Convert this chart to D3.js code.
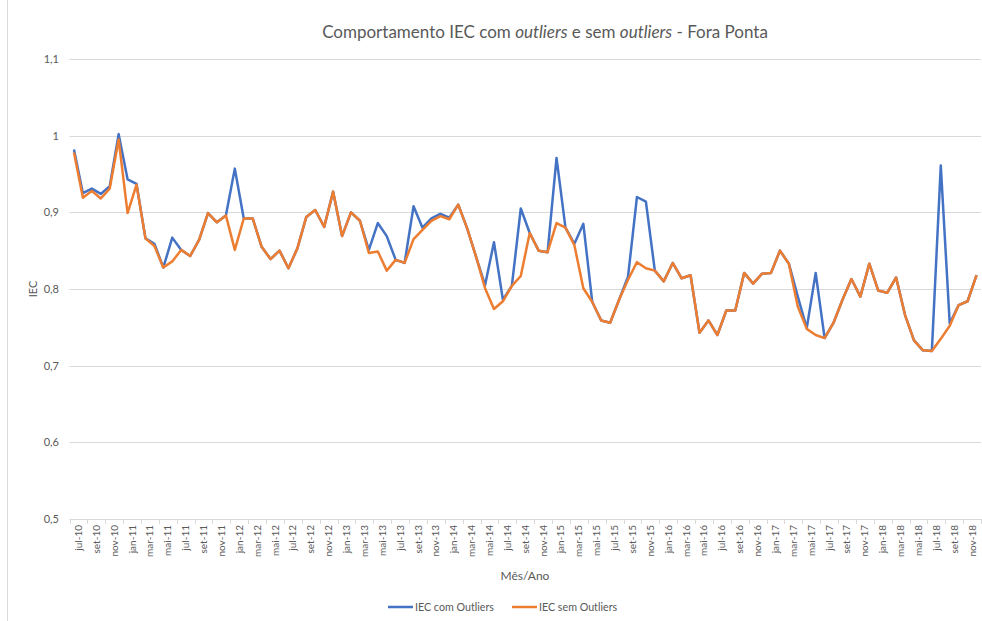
<!DOCTYPE html>
<html>
<head>
<meta charset="utf-8">
<script src="https://cdn.jsdelivr.net/npm/d3@7"></script>
<style>
  body { margin: 0; background: #fff; }
  svg { font-family: Lato, "Open Sans", sans-serif; }
</style>
</head>
<body>
<svg id="chart" width="982" height="621"></svg>
<script>
// month names (pt-BR) used for the category labels
var monthNames = ["jan", "fev", "mar", "abr", "mai", "jun", "jul", "ago", "set", "out", "nov", "dez"];
var startYear = 2010, startMonth = 6; // jul-10

// IEC with outliers
var comOutliers = [
  0.982, 0.925, 0.931, 0.924, 0.934, 1.002, 0.943, 0.937, 0.866, 0.859,
  0.828, 0.867, 0.851, 0.843, 0.864, 0.899, 0.887, 0.896, 0.957, 0.892,
  0.892, 0.855, 0.839, 0.850, 0.827, 0.853, 0.894, 0.903, 0.881, 0.927,
  0.869, 0.900, 0.889, 0.851, 0.886, 0.869, 0.838, 0.834, 0.908, 0.880,
  0.892, 0.898, 0.893, 0.910, 0.879, 0.842, 0.805, 0.861, 0.786, 0.804,
  0.905, 0.873, 0.850, 0.848, 0.971, 0.880, 0.859, 0.885, 0.783, 0.759,
  0.756, 0.786, 0.816, 0.920, 0.914, 0.824, 0.810, 0.834, 0.814, 0.818,
  0.743, 0.759, 0.740, 0.772, 0.772, 0.821, 0.807, 0.820, 0.821, 0.850,
  0.833, 0.790, 0.749, 0.821, 0.736, 0.756, 0.786, 0.813, 0.790, 0.833,
  0.798, 0.795, 0.815, 0.766, 0.733, 0.720, 0.719, 0.961, 0.755, 0.779,
  0.784, 0.818
];

// IEC without outliers
var semOutliers = [
  0.978, 0.919, 0.928, 0.918, 0.931, 0.995, 0.899, 0.936, 0.866, 0.856,
  0.828, 0.836, 0.851, 0.843, 0.864, 0.899, 0.887, 0.896, 0.851, 0.892,
  0.892, 0.855, 0.839, 0.850, 0.827, 0.853, 0.894, 0.903, 0.881, 0.927,
  0.869, 0.900, 0.889, 0.847, 0.849, 0.824, 0.838, 0.834, 0.865, 0.877,
  0.889, 0.895, 0.891, 0.910, 0.879, 0.842, 0.801, 0.774, 0.784, 0.804,
  0.817, 0.873, 0.850, 0.848, 0.886, 0.880, 0.857, 0.801, 0.783, 0.759,
  0.756, 0.786, 0.812, 0.835, 0.827, 0.824, 0.810, 0.834, 0.814, 0.818,
  0.743, 0.759, 0.740, 0.772, 0.772, 0.821, 0.807, 0.820, 0.821, 0.850,
  0.833, 0.777, 0.748, 0.740, 0.736, 0.756, 0.786, 0.813, 0.790, 0.833,
  0.798, 0.795, 0.815, 0.766, 0.733, 0.720, 0.719, 0.735, 0.752, 0.779,
  0.784, 0.818
];

var yTicks = [0.5, 0.6, 0.7, 0.8, 0.9, 1.0, 1.1];

var categories = comOutliers.map(function(d, i) {
  var m = startMonth + i;
  var yr = startYear + Math.floor(m / 12);
  return monthNames[m % 12] + "-" + String(yr).slice(2);
});

var svg = d3.select("#chart");
var plotLeft = 69.5, plotRight = 981, plotTop = 59, plotBottom = 519;

var x = d3.scalePoint().domain(categories).range([plotLeft, plotRight]).padding(0.5);
var y = d3.scaleLinear().domain([0.5, 1.1]).range([plotBottom, plotTop]);
var step = x.step();

var textColor = "#595959", gridColor = "#d9d9d9";

// outer border
svg.append("line")
  .attr("x1", 7.5).attr("x2", 7.5).attr("y1", 0).attr("y2", 621)
  .attr("stroke", gridColor);

// gridlines
svg.append("g").selectAll("line")
  .data(yTicks)
  .enter().append("line")
  .attr("x1", plotLeft).attr("x2", plotRight)
  .attr("y1", function(d) { return Math.round(y(d)) + 0.5; })
  .attr("y2", function(d) { return Math.round(y(d)) + 0.5; })
  .attr("stroke", gridColor).attr("stroke-width", 1);

// y labels
svg.append("g").selectAll("text")
  .data(yTicks)
  .enter().append("text")
  .attr("x", 59).attr("y", function(d) { return y(d); })
  .attr("dy", "0.35em")
  .attr("text-anchor", "end")
  .attr("fill", textColor)
  .style("font-size", "11px")
  .text(function(d) { return d3.format(".1f")(d).replace(".0", "").replace(".", ","); });

// x tick marks every 2 categories (category boundaries)
var tickIdx = categories.map(function(d, i) { return i; }).filter(function(i) { return i % 2 == 0; });
tickIdx.push(categories.length);
svg.append("g").selectAll("line")
  .data(tickIdx)
  .enter().append("line")
  .attr("x1", function(i) { return Math.round(plotLeft + i * step) + 0.5; })
  .attr("x2", function(i) { return Math.round(plotLeft + i * step) + 0.5; })
  .attr("y1", plotBottom).attr("y2", plotBottom + 5)
  .attr("stroke", gridColor);

// x labels, centred between each pair of months
svg.append("g").selectAll("text")
  .data(categories.filter(function(d, i) { return i % 2 == 0; }))
  .enter().append("text")
  .attr("transform", function(d) {
    return "translate(" + (x(d) + step / 2) + "," + (plotBottom + 6) + ") rotate(-90)";
  })
  .attr("dy", "0.35em")
  .attr("text-anchor", "end")
  .attr("fill", textColor)
  .style("font-size", "10px")
  .text(function(d) { return d; });

// lines
var line = d3.line()
  .x(function(d, i) { return x(categories[i]); })
  .y(function(d) { return y(d); });

svg.append("path")
  .datum(comOutliers)
  .attr("d", line)
  .attr("fill", "none")
  .attr("stroke", "#4472c4")
  .attr("stroke-width", 2.5)
  .attr("stroke-linejoin", "round");

svg.append("path")
  .datum(semOutliers)
  .attr("d", line)
  .attr("fill", "none")
  .attr("stroke", "#ed7d31")
  .attr("stroke-width", 2.5)
  .attr("stroke-linejoin", "round");

// title
var title = svg.append("text")
  .attr("x", 545).attr("y", 38)
  .attr("text-anchor", "middle")
  .attr("fill", textColor)
  .style("font-size", "17px");
title.append("tspan").text("Comportamento IEC com ");
title.append("tspan").style("font-style", "italic").text("outliers");
title.append("tspan").text(" e sem ");
title.append("tspan").style("font-style", "italic").text("outliers");
title.append("tspan").text(" - Fora Ponta");

// axis titles
svg.append("text")
  .attr("transform", "translate(37,289) rotate(-90)")
  .attr("text-anchor", "middle")
  .attr("fill", textColor)
  .style("font-size", "11px")
  .text("IEC");

svg.append("text")
  .attr("x", 525).attr("y", 580)
  .attr("text-anchor", "middle")
  .attr("fill", textColor)
  .style("font-size", "12px")
  .text("Mês/Ano");

// legend
var legend = [
  { name: "IEC com Outliers", color: "#4472c4", x: 388 },
  { name: "IEC sem Outliers", color: "#ed7d31", x: 512 }
];
var lg = svg.append("g").selectAll("g")
  .data(legend)
  .enter().append("g")
  .attr("transform", function(d) { return "translate(" + d.x + ",607)"; });
lg.append("line")
  .attr("x1", 0).attr("x2", 25)
  .attr("stroke", function(d) { return d.color; })
  .attr("stroke-width", 2.5);
lg.append("text")
  .attr("x", 27).attr("dy", "0.35em")
  .attr("fill", textColor)
  .style("font-size", "10.7px")
  .text(function(d) { return d.name; });
</script>
</body>
</html>
